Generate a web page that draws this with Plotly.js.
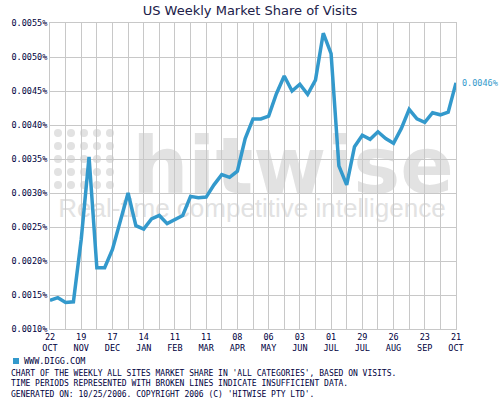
<!DOCTYPE html>
<html>
<head>
<meta charset="utf-8">
<script src="https://cdn.plot.ly/plotly-3.0.1.min.js"></script>
<style>html,body{margin:0;padding:0;background:#fff;}#chart{width:500px;height:400px;}</style>
</head>
<body>
<div id="chart"></div>
<script>
const chartTitle = 'US Weekly Market Share of Visits';
const seriesName = 'WWW.DIGG.COM';
const weeks = [
  '2005-10-22','2005-10-29','2005-11-05','2005-11-12','2005-11-19','2005-11-26',
  '2005-12-03','2005-12-10','2005-12-17','2005-12-24','2005-12-31',
  '2006-01-07','2006-01-14','2006-01-21','2006-01-28',
  '2006-02-04','2006-02-11','2006-02-18','2006-02-25',
  '2006-03-04','2006-03-11','2006-03-18','2006-03-25',
  '2006-04-01','2006-04-08','2006-04-15','2006-04-22','2006-04-29',
  '2006-05-06','2006-05-13','2006-05-20','2006-05-27',
  '2006-06-03','2006-06-10','2006-06-17','2006-06-24',
  '2006-07-01','2006-07-08','2006-07-15','2006-07-22','2006-07-29',
  '2006-08-05','2006-08-12','2006-08-19','2006-08-26',
  '2006-09-02','2006-09-09','2006-09-16','2006-09-23','2006-09-30',
  '2006-10-07','2006-10-14','2006-10-21'
];
const diggShare = [
  0.00142,0.00146,0.00139,0.00140,0.00232,0.00353,
  0.00190,0.00190,0.00217,0.00260,0.00300,
  0.00252,0.00247,0.00262,0.00267,
  0.00255,0.00261,0.00267,0.00295,
  0.00293,0.00294,0.00312,0.00327,
  0.00323,0.00332,0.00380,0.00409,0.00409,
  0.00413,0.00446,0.00472,0.00450,
  0.00460,0.00445,0.00466,0.00535,
  0.00505,0.00340,0.00312,0.00368,0.00385,
  0.00379,0.00390,0.00380,0.00373,
  0.00395,0.00423,0.00409,0.00404,0.00418,
  0.00415,0.00419,0.00462
];
const tickDates = ['2005-10-22','2005-11-19','2005-12-17','2006-01-14','2006-02-11','2006-03-11',
  '2006-04-08','2006-05-06','2006-06-03','2006-07-01','2006-07-29','2006-08-26','2006-09-23','2006-10-21'];
const tickText = ['22<br>OCT','19<br>NOV','17<br>DEC','14<br>JAN','11<br>FEB','11<br>MAR',
  '08<br>APR','06<br>MAY','03<br>JUN','01<br>JUL','29<br>JUL','26<br>AUG','23<br>SEP','21<br>OCT'];
const footerLines = [
  "CHART OF THE WEEKLY ALL SITES MARKET SHARE IN 'ALL CATEGORIES', BASED ON VISITS.",
  "TIME PERIODS REPRESENTED WITH BROKEN LINES INDICATE INSUFFICIENT DATA.",
  "GENERATED ON: 10/25/2006. COPYRIGHT 2006 (C) 'HITWISE PTY LTD'."
];
const watermarkWord = 'hitwise';
const watermarkTag = 'Real-time competitive intelligence';

const L = 50, R = 44, T = 23, B = 71, W = 500, H = 400;
const PW = W - L - R, PH = H - T - B;
const px = x => (x - L) / PW;
const py = y => (H - B - y) / PH;

const mono = 'DejaVu Sans Mono, monospace';
const navy = '#000040';
const blue = '#3399cc';
const wmGray = '#e2e2e2';

const shapes = [];
// watermark dots
for (let r = 0; r < 5; r++) {
  for (let c = 0; c < 5; c++) {
    const cx = 58 + c * 13, cy = 133 + r * 13;
    shapes.push({type:'circle', xref:'paper', yref:'paper', layer:'below',
      x0:px(cx-4), x1:px(cx+4), y0:py(cy+4), y1:py(cy-4),
      fillcolor:wmGray, line:{width:0}});
  }
}
shapes.push({type:'rect', xref:'paper', yref:'paper', layer:'below',
  x0:px(133), x1:px(453), y0:py(200), y1:py(120), line:{width:0}, fillcolor:'rgba(0,0,0,0)',
  label:{text:watermarkWord, textposition:'middle center',
    font:{family:'DejaVu Sans, sans-serif', size:79, color:wmGray, weight:'bold'}}});
shapes.push({type:'rect', xref:'paper', yref:'paper', layer:'below',
  x0:px(52), x1:px(452), y0:py(221), y1:py(191), line:{width:0}, fillcolor:'rgba(0,0,0,0)',
  label:{text:watermarkTag, textposition:'middle center',
    font:{family:'Liberation Sans, Arial, sans-serif', size:26, color:wmGray}}});
// legend swatch
shapes.push({type:'rect', xref:'paper', yref:'paper', x0:px(13), x1:px(19), y0:py(364), y1:py(358),
  fillcolor:blue, line:{width:0}});

const last = diggShare.length - 1;
const annotations = [
  {xref:'x', yref:'y', x:weeks[last], y:diggShare[last], text:diggShare[last].toFixed(4)+'%',
   showarrow:false, xanchor:'left', xshift:4, font:{family:mono, size:8.5, color:blue}},
  {xref:'paper', yref:'paper', x:px(22), y:py(361), text:seriesName, showarrow:false,
   xanchor:'left', yanchor:'middle', font:{family:mono, size:8.5, color:navy}},
  {xref:'paper', yref:'paper', x:px(9), y:py(384), text:footerLines.join('<br>'), showarrow:false,
   xanchor:'left', yanchor:'middle', align:'left', font:{family:mono, size:8, color:navy}}
];

const trace = {
  x: weeks, y: diggShare, type:'scatter', mode:'lines', name:seriesName,
  line:{color:blue, width:3.5}, hoverinfo:'skip'
};

const layout = {
  width:W, height:H,
  margin:{l:L, r:R, t:T, b:B, pad:0},
  paper_bgcolor:'#ffffff', plot_bgcolor:'rgba(0,0,0,0)',
  showlegend:false,
  title:{text:chartTitle, x:0.5, xref:'container', y:1-10/H, yref:'container', yanchor:'middle',
    font:{family:'DejaVu Sans, Verdana, sans-serif', size:13, color:'#202048'}},
  xaxis:{type:'date', range:[weeks[0], weeks[last]], tickvals:tickDates, ticktext:tickText,
    showgrid:true, gridcolor:'#c8c8c8', gridwidth:1, zeroline:false,
    showline:true, linecolor:'#c8c8c8', linewidth:1, mirror:true, ticks:'',
    minor:{dtick:14*86400000, tick0:weeks[0], showgrid:true, gridcolor:'#c8c8c8', gridwidth:1, ticks:''},
    tickfont:{family:mono, size:8.5, color:navy}, tickangle:0, automargin:false},
  yaxis:{range:[0.001, 0.0055], dtick:0.0005, tick0:0.001, tickformat:'.4f', ticksuffix:'%',
    showgrid:true, gridcolor:'#c8c8c8', gridwidth:1, zeroline:false,
    showline:true, linecolor:'#c8c8c8', linewidth:1, mirror:true, ticks:'',
    tickfont:{family:mono, size:8.5, color:navy}, automargin:false},
  shapes:shapes, annotations:annotations
};

Plotly.newPlot('chart', [trace], layout, {staticPlot:true, displayModeBar:false});
</script>
</body>
</html>
